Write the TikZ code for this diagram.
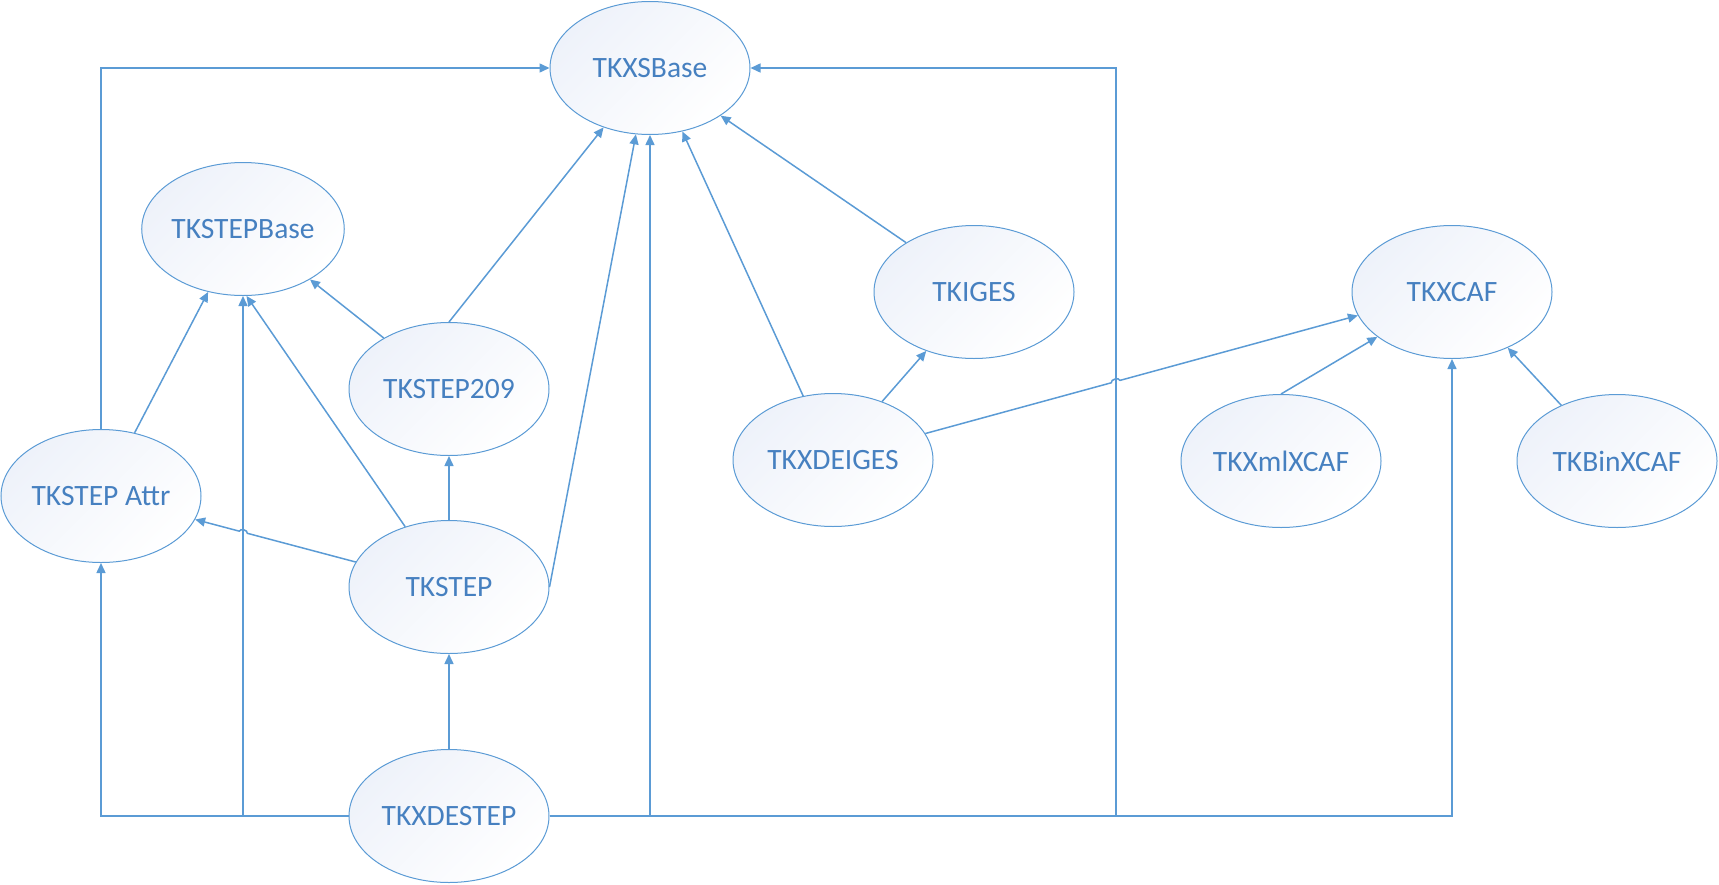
\documentclass[tikz,border=0pt]{standalone}
\usepackage{fontspec}
\setmainfont{Carlito}
\usepackage{tikz}
\usetikzlibrary{arrows.meta, calc, shapes.geometric}
\definecolor{linkblue}{RGB}{91,155,213}
\definecolor{textblue}{RGB}{70,128,192}
\definecolor{shadeblue}{RGB}{238,242,250}

\begin{document}
\begin{tikzpicture}[x=0.5pt, y=-0.5pt, font=\fontsize{14.75}{17}\selectfont,
module/.style={ellipse, draw=linkblue, line width=0.5pt, top color=shadeblue,
bottom color=white, shading angle=45, text=textblue, minimum width=100pt,
minimum height=66.5pt, inner sep=0pt},
arrow/.style={-{Triangle[length=5pt,width=4.5pt]}, draw=linkblue, line width=0.75pt}
]
\useasboundingbox (0,0) rectangle (1719,884);

% Base
\node[module] (xsbase) at (650,68) {TKXSBase};

% STEP
\node[module] (stepbase) at (243,229) {TKSTEPBase};
\node[module] (step209) at (449,389) {TKSTEP209};
\node[module] (stepattr) at (101,496) {TKSTEP Attr};
\node[module] (tkstep) at (449,587) {TKSTEP};
\node[module] (xdestep) at (449,816) {TKXDESTEP};

% IGES
\node[module] (iges) at (974,292) {TKIGES};
\node[module] (xdeiges) at (833,460) {TKXDEIGES};

% XCAF
\node[module] (xcaf) at (1452,292) {TKXCAF};
\node[module] (xmlxcaf) at (1281,461) {TKXmlXCAF};
\node[module] (binxcaf) at (1617,461) {TKBinXCAF};

\coordinate (jright) at (1116,816);

% Arrows
\draw[arrow] (stepattr.north) |- (xsbase.west);
\draw[arrow] (stepattr.62) -- (stepbase.241);
\draw[arrow] (step209.142) -- (stepbase.323);
\draw[arrow] (step209.north) -- (xsbase.232);
\draw[arrow] (tkstep.126) -- (stepbase.273);
\draw[arrow] (tkstep.north) -- (step209.south);
\draw[arrow] (tkstep.east) -- (xsbase.258);
\draw[arrow] (tkstep.165) -- ($(tkstep.165)!0.675!(stepattr.346)$)
  to[bend right=90] ($(tkstep.165)!0.725!(stepattr.346)$) -- (stepattr.346);
\draw[arrow] (xdestep.north) -- (tkstep.south);
\draw[arrow] (xdestep.west) -| (stepattr.south);
\draw[arrow] (xdestep.west) -| (stepbase.south);
\draw[arrow] (xdestep.east) -| (xsbase.south);
\draw[arrow] (xdestep.east) -- (jright) |- (xsbase.east);
\draw[arrow] (xdestep.east) -| (xcaf.south);
\draw[arrow] (xdeiges.115) -- (xsbase.297);
\draw[arrow] (xdeiges.50) -- (iges.231);
\draw[arrow] (iges.144) -- (xsbase.326);
\draw[arrow] (xdeiges.16) -- ($(xdeiges.16)!0.43!(xcaf.194)$)
  to[bend left=90] ($(xdeiges.16)!0.45!(xcaf.194)$) -- (xcaf.194);
\draw[arrow] (xmlxcaf.north) -- (xcaf.211);
\draw[arrow] (binxcaf.135) -- (xcaf.315);

\end{tikzpicture}
\end{document}
